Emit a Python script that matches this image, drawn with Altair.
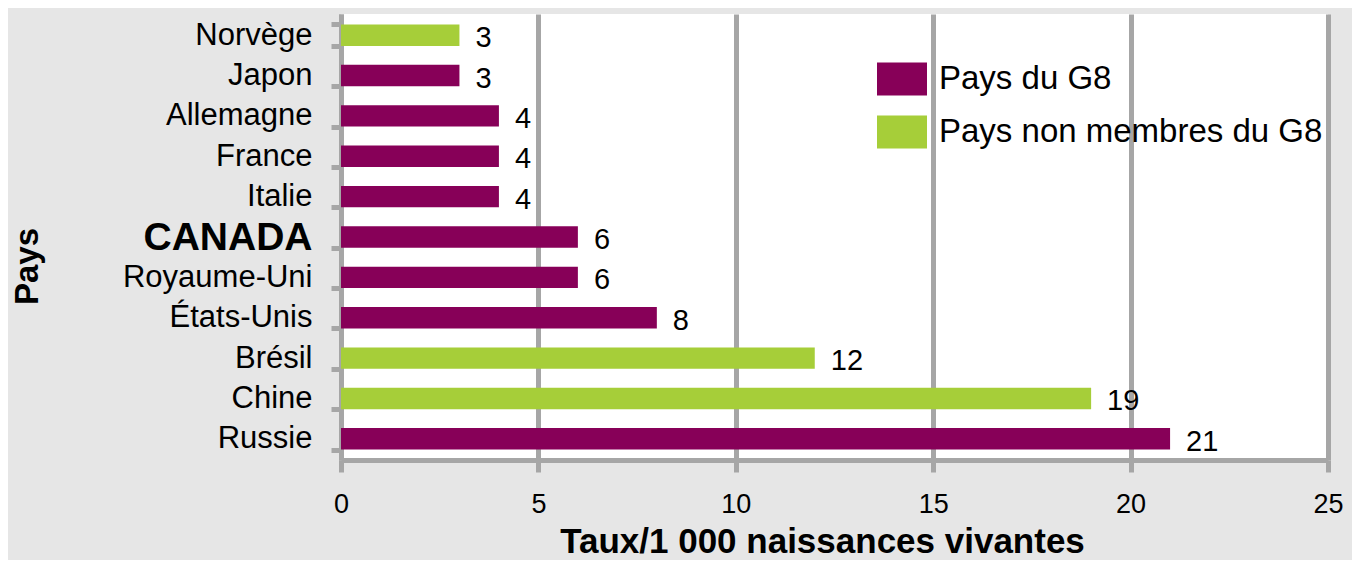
import altair as alt
import pandas as pd

countries = ["Norvège", "Japon", "Allemagne", "France", "Italie", "CANADA",
             "Royaume-Uni", "États-Unis", "Brésil", "Chine", "Russie"]
values = [3, 3, 4, 4, 4, 6, 6, 8, 12, 19, 21]
groups = ["Pays non membres du G8", "Pays du G8", "Pays du G8", "Pays du G8",
          "Pays du G8", "Pays du G8", "Pays du G8", "Pays du G8",
          "Pays non membres du G8", "Pays non membres du G8", "Pays du G8"]
group_order = ["Pays du G8", "Pays non membres du G8"]
group_colors = ["#870058", "#a6ce39"]
x_ticks = [0, 5, 10, 15, 20, 25]

df = pd.DataFrame({"Pays": countries, "Taux": values, "Groupe": groups})

FONT = "Liberation Sans"
GRID = "#a6a6a6"

y_enc = alt.Y(
    "Pays:N", sort=countries,
    scale=alt.Scale(paddingInner=0.47, paddingOuter=0.26),
    axis=alt.Axis(
        title="Pays", titleFont=FONT, titleFontSize=33, titleFontWeight="bold",
        titleColor="black", titleAngle=270, titleAlign="center", titleBaseline="middle",
        titleX=-314, titleY=252,
        labelFont=FONT, labelColor="black",
        labelFontSize={"condition": {"test": "datum.value == 'CANADA'", "value": 39}, "value": 31},
        labelFontWeight={"condition": {"test": "datum.value == 'CANADA'", "value": "bold"}, "value": "normal"},
        labelPadding=19, tickSize=10, tickWidth=5, tickColor=GRID, tickBand="extent",
        domainColor=GRID, domainWidth=5, grid=False, labelLimit=400,
    ),
)

bars = alt.Chart(df).mark_bar().encode(
    x=alt.X("Taux:Q", scale=alt.Scale(domain=[0, 25], nice=False),
            axis=alt.Axis(values=x_ticks, title="Taux/1 000 naissances vivantes",
                          titleFont=FONT, titleFontSize=35, titleFontWeight="bold",
                          titleColor="black", titleX=481, titleY=92,
                          titleAlign="center", titleBaseline="alphabetic",
                          labelFont=FONT, labelFontSize=27, labelColor="black",
                          labelFlush=False, labelOverlap=False,
                          labelPadding=19, tickSize=12, tickWidth=5, tickColor=GRID,
                          domainColor=GRID, domainWidth=5,
                          grid=True, gridColor=GRID, gridWidth=5, gridOpacity=1)),
    y=y_enc,
    color=alt.Color("Groupe:N",
                    scale=alt.Scale(domain=group_order, range=group_colors),
                    legend=alt.Legend(title=None, orient="none", legendX=536, legendY=40,
                                      symbolType="M-1,-0.66L1,-0.66L1,0.66L-1,0.66Z",
                                      symbolSize=2500, symbolStrokeWidth=0, symbolOpacity=1,
                                      labelFont=FONT, labelFontSize=33, labelColor="black",
                                      labelOffset=12, rowPadding=11, labelLimit=500)),
)

labels = alt.Chart(df).mark_text(
    align="left", baseline="middle", dx=16, dy=3, font=FONT, fontSize=29, color="black"
).encode(
    x="Taux:Q",
    y=alt.Y("Pays:N", sort=countries),
    text="Taux:Q",
)

chart = (bars + labels).properties(
    width=987, height=446,
    background="#e6e6e6",
    padding={"left": 333, "top": 6, "right": 24, "bottom": 100},
    autosize=alt.AutoSizeParams(type="none"),
).configure_view(fill="white", stroke=None)

chart.save("out.html", embed_options={"renderer": "svg", "actions": False})
